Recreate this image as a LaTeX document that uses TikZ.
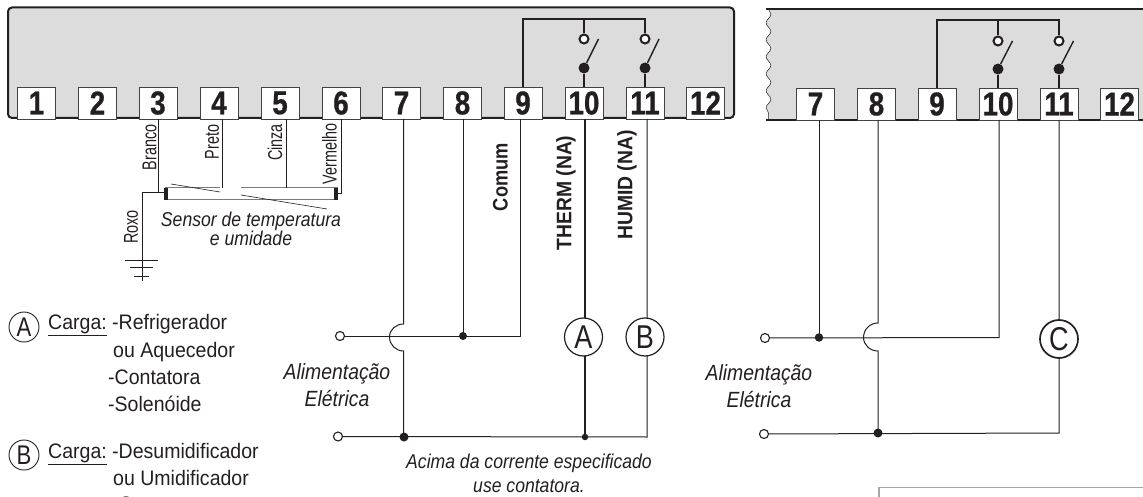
\documentclass[tikz,border=0pt]{standalone}
\usepackage{fontspec}
\setmainfont{Liberation Sans}
\newfontfamily\legendf[FakeStretch=0.93]{Liberation Sans}
\newfontfamily\noteF[FakeStretch=0.88]{Liberation Sans Italic}
\newfontfamily\loadf[FakeStretch=0.82]{Liberation Sans}
\newfontfamily\vnarrowf[FakeStretch=0.72]{Liberation Sans}
\newfontfamily\boldA[FakeStretch=0.87]{Liberation Sans Bold}
\newfontfamily\boldB[FakeStretch=0.92]{Liberation Sans Bold}
\newfontfamily\numf[FakeStretch=0.84,FakeBold=0.8]{Liberation Sans Bold}
\usetikzlibrary{decorations.pathmorphing}
\definecolor{panelgray}{HTML}{DCDCDC}
\definecolor{ink}{HTML}{231F20}
\tikzset{
  x=1pt,y=-1pt,
  termbox/.style={draw=ink!85,line width=0.9pt,fill=white,minimum width=38pt,minimum height=32pt,inner sep=0pt,text=ink,font=\numf\fontsize{33}{33}\selectfont},
  wire/.style={draw=ink,line width=1pt},
  thickwire/.style={draw=ink,line width=2pt},
  panelline/.style={draw=ink,line width=2pt},
  opendot/.style={circle,draw=ink,line width=1.1pt,fill=white,minimum size=9pt,inner sep=0pt},
  contact/.style={circle,draw=ink,line width=2pt,fill=white,minimum size=9pt,inner sep=0pt},
  solid dot/.style={circle,fill=ink,minimum size=#1,inner sep=0pt},
  solid dot/.default=8pt,
  load/.style={circle,draw=ink,line width=1.2pt,fill=white,minimum size=38pt,inner sep=0pt,text=ink,font=\loadf\fontsize{33}{33}\selectfont},
  legendmark/.style={circle,draw=ink,line width=0.9pt,fill=white,minimum size=30pt,inner sep=0pt,text=ink,font=\loadf\fontsize{27}{27}\selectfont},
  vlabel/.style={rotate=90,inner sep=0pt,text=ink,font=\vnarrowf\fontsize{20}{20}\selectfont},
  blabelA/.style={rotate=90,inner sep=0pt,text=ink,font=\boldA\fontsize{21}{21}\selectfont},
  blabelB/.style={rotate=90,inner sep=0pt,text=ink,font=\boldB\fontsize{21}{21}\selectfont},
  sensornote/.style={inner sep=0pt,text=ink,align=center,font=\noteF\fontsize{20}{18}\selectfont},
  note/.style={inner sep=0pt,text=ink,align=center,font=\noteF\fontsize{20}{24}\selectfont},
  power/.style={inner sep=0pt,text=ink,align=center,font=\noteF\fontsize{22}{27}\selectfont},
  legend/.style={anchor=base west,inner sep=0pt,text=ink,font=\legendf\fontsize{21}{21}\selectfont},
}
\begin{document}
\begin{tikzpicture}
\useasboundingbox (0,0) rectangle (1143,497);
% left panel
\draw[panelline,fill=panelgray,rounded corners=4pt] (8,7.5) rectangle (734,118);
% right panel
\fill[panelgray] decorate[decoration={snake,amplitude=2.4pt,segment length=17pt}] {(768.5,9) -- (768.5,120)} -- (1143,120) -- (1143,9) -- cycle;
\coordinate (rpTL) at (766,9); \coordinate (rpTR) at (1143,9);
\coordinate (rpBL) at (766,120); \coordinate (rpBR) at (1143,120);
\draw[draw=ink,line width=0.5pt,decorate,decoration={snake,amplitude=2.4pt,segment length=17pt}] (768.5,9) -- (768.5,120);
\draw[panelline] (rpTL) -- (rpTR);
\draw[panelline] (rpBL) -- (rpBR);
% terminals left
\foreach \n/\cx in {1/36.5,2/97.5,3/158,4/219,5/280,6/341,7/401.5,8/462.5,9/523,10/584,11/645,12/705.5}
  \node[termbox] (t\n) at (\cx,103) {\n};
% terminals right
\foreach \n/\cx in {7/815.5,8/876.5,9/937,10/998,11/1059,12/1119.5}
  \node[termbox] (r\n) at (\cx,104) {\n};
% contacts left
\coordinate (bus9) at (523,19); \coordinate (bus11) at (645,19); \coordinate (bus10) at (584,19);
\node[contact] (o10) at (584,39) {}; \node[contact] (o11) at (645,39) {};
\node[solid dot=11pt] (c10) at (584,68) {}; \node[solid dot=11pt] (c11) at (645,68) {};
\coordinate (b10) at (598.5,39); \coordinate (b11) at (659,39);
\draw[thickwire] (t9.north) -- (bus9) -- (bus11) -- (o11.north);
\draw[thickwire] (bus10) -- (o10.north);
\draw[thickwire] (c10) -- (t10.north);
\draw[thickwire] (c11) -- (t11.north);
\draw[draw=ink,line width=1.4pt] (c10) -- (b10);
\draw[draw=ink,line width=1.4pt] (c11) -- (b11);
% contacts right
\coordinate (rbus9) at (937,20.5); \coordinate (rbus11) at (1059,20.5); \coordinate (rbus10) at (998,20.5);
\node[contact] (ro10) at (998,41) {}; \node[contact] (ro11) at (1059,41) {};
\node[solid dot=11pt] (rc10) at (998,69) {}; \node[solid dot=11pt] (rc11) at (1059,69) {};
\coordinate (rb10) at (1012.5,41); \coordinate (rb11) at (1073.5,41);
\draw[thickwire] (r9.north) -- (rbus9) -- (rbus11) -- (ro11.north);
\draw[thickwire] (rbus10) -- (ro10.north);
\draw[thickwire] (rc10) -- (r10.north);
\draw[thickwire] (rc11) -- (r11.north);
\draw[draw=ink,line width=1.4pt] (rc10) -- (rb10);
\draw[draw=ink,line width=1.4pt] (rc11) -- (rb11);
% sensor
\node[draw=ink!60,line width=1pt,fill=white,minimum width=172pt,minimum height=12pt,inner sep=0pt] (sensor) at (251,194) {};
\draw[white,line width=1.6pt] (220,188) -- (241,188);
\fill[ink] (164,188) rectangle (168,200);
\fill[ink] (334,188) rectangle (338,200);
\draw[draw=ink,line width=0.6pt] (171,184) -- (220,192);
\draw[draw=ink,line width=0.6pt] (241,195) -- (327,209);
\coordinate (s3) at (158,192.5); \coordinate (sl) at (164,192.5);
\coordinate (s6) at (341,193.5); \coordinate (sr) at (338,193.5);
\coordinate (rox) at (142,192.5); \coordinate (gnd) at (142,281);
\coordinate (p4) at (222,119); \coordinate (p4b) at (222,188);
\coordinate (p5) at (286,119); \coordinate (p5b) at (286,188);
\coordinate (p6) at (341,119);
\draw[wire] (t3.south) -- (s3) -- (sl);
\draw[wire] (s3) -- (rox) -- (gnd);
\draw[wire] (p4) -- (p4b);
\draw[wire] (p5) -- (p5b);
\draw[wire] (p6) -- (s6) -- (sr);
\coordinate (g1l) at (125,260.5); \coordinate (g1r) at (157.5,260.5);
\coordinate (g2l) at (130,267); \coordinate (g2r) at (153,267);
\coordinate (g3l) at (134,276); \coordinate (g3r) at (149,276);
\draw[draw=ink,line width=0.7pt] (g1l) -- (g1r) (g2l) -- (g2r) (g3l) -- (g3r);
\node[vlabel] (lBranco) at (149.5,147.5) {Branco};
\node[vlabel] (lPreto) at (212,142) {Preto};
\node[vlabel] (lCinza) at (275,142.5) {Cinza};
\node[vlabel] (lVerm) at (329.5,154) {Vermelho};
\node[vlabel] (lRoxo) at (131,227) {Roxo};
\node[sensornote] (lSensor) at (251,229) {Sensor de temperatura\\e umidade};
\node[blabelA] (lComum) at (500.5,177) {Comum};
\node[blabelB] (lTherm) at (566,193) {THERM (NA)};
\node[blabelB] (lHumid) at (627,185) {HUMID (NA)};
% left power circuit
\node[opendot] (pt) at (340,336) {};
\node[opendot] (pb) at (338,436.5) {};
\coordinate (w7) at (403.5,119); \coordinate (w7a) at (403.5,324); \coordinate (w7m) at (389.5,337); \coordinate (w7b) at (403.5,351); \coordinate (w7c) at (403.5,437);
\coordinate (w8) at (463,119); \coordinate (w8j) at (463,336);
\coordinate (w9) at (520,119); \coordinate (w9c) at (520,336);
\coordinate (w10) at (585,119); \coordinate (w10j) at (585,437);
\coordinate (w11) at (647,119); \coordinate (w11c) at (647,437);
\draw[wire] (w7) -- (w7a) to[out=180,in=90] (w7m) to[out=-90,in=180] (w7b) -- (w7c);
\draw[wire] (w8) -- (w8j);
\draw[wire] (pt) -- (w9c) -- (w9);
\draw[wire] (pb) -- (w11c) -- (w11);
\draw[thickwire,line width=1.6pt] (w10) -- (w10j);
\node[load] (A) at (583.5,337) {A};
\node[load] (B) at (645,337) {B};
\node[solid dot=8pt] (j8) at (w8j) {};
\node[solid dot=9pt] (j7) at (404,437) {};
\node[solid dot=6.5pt] (j10) at (w10j) {};
\node[power] (lAl) at (337,385.5) {Alimentação\\Elétrica};
\node[note] (lAcima) at (529,473) {Acima da corrente especificado\\use contatora.};
% right power circuit
\node[opendot] (qt) at (765,338) {};
\node[opendot] (qb) at (764,434) {};
\coordinate (v7) at (819,120); \coordinate (v7j) at (819,337.5);
\coordinate (v8) at (878,120); \coordinate (v8a) at (878,323); \coordinate (v8m) at (863.5,337.5); \coordinate (v8b) at (878,351); \coordinate (v8c) at (878,433);
\coordinate (v10) at (999,120); \coordinate (v10c) at (999,337.5);
\coordinate (v11) at (1059,120); \coordinate (v11c) at (1059,433);
\draw[wire] (v7) -- (v7j);
\draw[wire] (v8) -- (v8a) to[out=180,in=90] (v8m) to[out=-90,in=180] (v8b) -- (v8c);
\draw[wire] (qt) -- (v10c) -- (v10);
\draw[wire] (qb) -- (v11c) -- (v11);
\node[load,line width=1.7pt] (C) at (1059,339) {C};
\node[solid dot=8.5pt] (j7r) at (v7j) {};
\node[solid dot=9pt] (j8r) at (v8c) {};
\node[power] (rAl) at (759,386.5) {Alimentação\\Elétrica};
% legend
\node[legendmark] (mA) at (24,327) {A};
\node[legendmark] (mB) at (24,455) {B};
\node[legend] at (48,329) {\underline{Carga:}};
\node[legend] at (112,329) {-Refrigerador};
\node[legend] at (113,357) {ou Aquecedor};
\node[legend] at (108,384) {-Contatora};
\node[legend] at (108,411) {-Solenóide};
\node[legend] at (48,458) {\underline{Carga:}};
\node[legend] at (112,458) {-Desumidificador};
\node[legend] at (113,485) {ou Umidificador};
\node[legend] at (112,511) {-Contatora};
% cropped box
\draw[draw=black!35,line width=1.6pt] (879,505) -- (879,487.5) -- (1143,487.5);
\end{tikzpicture}
\end{document}
